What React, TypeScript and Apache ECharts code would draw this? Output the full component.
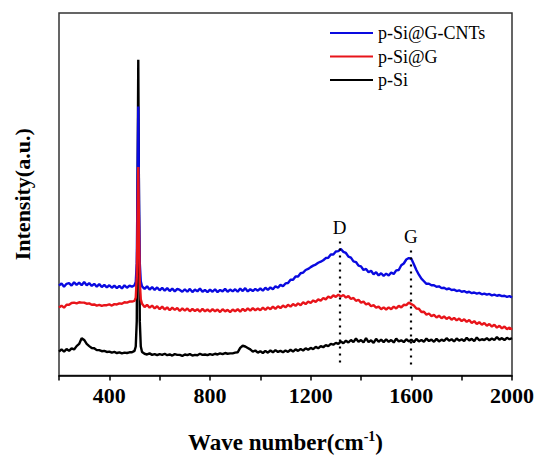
import React, { useEffect, useRef } from "react";
import * as echarts from "echarts";

const waveNumbers: number[] = [
  200, 210, 220, 230, 240, 250, 260, 270, 280, 290,
  300, 310, 320, 330, 340, 350, 360, 370, 380, 390,
  400, 410, 420, 430, 440, 450, 460, 470, 480, 490,
  500, 505, 509, 512, 515, 518, 521, 525, 530,
  540, 550, 560, 570, 580, 590,
  600, 610, 620, 630, 640, 650, 660, 670, 680, 690,
  700, 710, 720, 730, 740, 750, 760, 770, 780, 790,
  800, 810, 820, 830, 840, 850, 860, 870, 880, 890,
  900, 910, 920, 930, 940, 950, 960, 970, 980, 990,
  1000, 1010, 1020, 1030, 1040, 1050, 1060, 1070, 1080, 1090,
  1100, 1110, 1120, 1130, 1140, 1150, 1160, 1170, 1180, 1190,
  1200, 1210, 1220, 1230, 1240, 1250, 1260, 1270, 1280, 1290,
  1300, 1310, 1320, 1330, 1340, 1350, 1360, 1370, 1380, 1390,
  1400, 1410, 1420, 1430, 1440, 1450, 1460, 1470, 1480, 1490,
  1500, 1510, 1520, 1530, 1540, 1550, 1560, 1570, 1580, 1590,
  1600, 1610, 1620, 1630, 1640, 1650, 1660, 1670, 1680, 1690,
  1700, 1710, 1720, 1730, 1740, 1750, 1760, 1770, 1780, 1790,
  1800, 1810, 1820, 1830, 1840, 1850, 1860, 1870, 1880, 1890,
  1900, 1910, 1920, 1930, 1940, 1950, 1960, 1970, 1980, 1990,
  2000,
];

const blueValues: number[] = [
  24.8, 25.4, 24.5, 25.3, 25.5, 24.8, 25.7, 25.0, 25.6, 24.9,
  25.8, 24.9, 25.5, 24.7, 25.3, 24.5, 25.2, 24.4, 25.0, 24.3,
  24.9, 24.2, 24.8, 24.1, 24.7, 24.0, 24.9, 24.2, 24.8, 24.5,
  24.9, 25.8, 31, 52, 74.2, 48, 31, 26, 24.6,
  23.9, 24.6, 23.7, 24.4, 23.6, 24.3,
  23.5, 24.2, 23.4, 24.1, 23.3, 24.0, 23.2, 23.9, 23.6, 23.1,
  23.8, 23.1, 23.9, 23.0, 23.7, 23.2, 24.0, 23.1, 23.6, 23.0,
  23.7, 23.1, 23.8, 23.0, 23.6, 23.2, 23.9, 23.1, 23.7, 23.2,
  23.8, 23.1, 24.0, 23.3, 24.1, 23.2, 23.8, 23.3, 23.9, 23.4,
  24.0, 23.4, 24.2, 23.6, 24.3, 23.8, 24.6, 24.2, 25.0, 24.6,
  25.4, 25.5, 26.4, 26.4, 27.3, 27.3, 28.2, 28.4, 29.1, 29.4,
  29.9, 30.3, 30.6, 31.1, 31.4, 31.8, 32.4, 32.5, 33.4, 33.4,
  34.2, 34.3, 34.9, 34.1, 33.8, 32.8, 32.5, 31.5, 31.3, 30.3,
  30.1, 29.1, 29.4, 28.5, 28.9, 27.9, 28.5, 27.6, 28.2, 27.5,
  28.1, 27.6, 28.4, 28.0, 29.0, 29.1, 30.4, 30.9, 32.0, 32.4,
  32.2, 30.7, 29.1, 27.8, 26.7, 26.0, 25.3, 25.3, 24.9, 24.9,
  24.5, 24.6, 24.1, 24.2, 23.8, 24.0, 23.6, 23.7, 23.3, 23.5,
  23.1, 23.3, 22.9, 23.1, 22.7, 22.9, 22.6, 22.8, 22.4, 22.6,
  22.3, 22.5, 22.1, 22.3, 22.0, 22.2, 21.9, 22.0, 21.7, 21.9,
  21.5,
];

const redValues: number[] = [
  18.7, 19.3, 18.7, 19.5, 19.5, 20.0, 20.1, 19.9, 20.2, 20.1,
  20.1, 19.8, 19.9, 19.5, 19.6, 19.3, 19.5, 19.2, 19.4, 19.4,
  19.6, 19.3, 19.7, 19.6, 19.9, 19.8, 20.2, 20.1, 20.4, 20.4,
  20.6, 21.5, 27, 42, 57.5, 40, 26, 21, 19.8,
  18.9, 19.5, 18.7, 19.3, 18.5, 19.1,
  18.3, 19.0, 18.2, 18.8, 18.0, 18.7, 18.1, 18.6, 17.8, 18.5,
  17.9, 18.5, 17.7, 18.4, 17.8, 18.3, 17.6, 18.4, 17.7, 18.2,
  17.6, 18.3, 17.7, 18.2, 17.5, 18.3, 17.7, 18.1, 17.5, 18.2,
  17.7, 18.3, 17.6, 18.4, 17.8, 18.5, 17.9, 18.6, 18.0, 18.5,
  18.0, 18.7, 18.1, 18.8, 18.3, 19.0, 18.4, 19.1, 18.6, 19.3,
  18.8, 19.5, 19.0, 19.7, 19.2, 19.9, 19.4, 20.2, 19.7, 20.4,
  20.0, 20.7, 20.3, 21.0, 20.6, 21.4, 21.0, 21.8, 21.4, 22.1,
  21.7, 22.3, 21.8, 22.2, 21.5, 21.9, 21.1, 21.4, 20.6, 20.9,
  20.1, 20.4, 19.6, 19.9, 19.1, 19.4, 18.7, 19.0, 18.3, 18.8,
  18.2, 18.8, 18.3, 19.0, 18.5, 19.2, 18.8, 19.5, 19.4, 20.1,
  19.7, 19.3, 18.5, 18.4, 17.5, 17.6, 16.8, 17.1, 16.4, 16.7,
  16.0, 16.5, 15.8, 16.3, 15.6, 16.1, 15.4, 15.9, 15.2, 15.7,
  15.0, 15.5, 14.8, 15.3, 14.5, 15.0, 14.2, 14.7, 14.0, 14.5,
  13.7, 14.2, 13.5, 14.0, 13.2, 13.7, 13.0, 13.5, 12.8, 13.2,
  12.7,
];

const blackValues: number[] = [
  6.6, 7.2, 6.6, 7.3, 6.8, 7.5, 7.2, 8.1, 8.7, 10.3,
  9.8, 8.7, 8.1, 7.6, 7.5, 7.0, 7.0, 6.7, 6.8, 6.5,
  6.6, 6.3, 6.5, 6.2, 6.4, 6.1, 6.3, 6.2, 6.4, 6.4,
  6.8, 8, 15, 50, 87.1, 45, 15, 8, 6.5,
  6.0, 5.8, 6.1, 5.7, 5.9, 5.6,
  5.9, 5.7, 6.0, 5.6, 5.8, 5.5, 5.9, 5.7, 5.7, 5.4,
  5.8, 5.6, 5.9, 5.5, 5.7, 5.6, 6.0, 5.7, 5.8, 5.6,
  5.9, 5.7, 6.0, 5.8, 6.1, 5.9, 6.2, 6.0, 6.1, 6.1,
  6.3, 6.4, 7.6, 8.2, 8.0, 7.6, 7.2, 6.6, 6.9, 6.3,
  6.7, 6.2, 6.8, 6.3, 6.9, 6.4, 7.0, 6.5, 6.8, 6.4,
  6.9, 6.5, 7.1, 6.6, 7.2, 6.8, 7.3, 6.9, 7.5, 7.1,
  7.6, 7.3, 7.9, 7.5, 8.1, 7.8, 8.4, 8.1, 8.7, 8.5,
  9.0, 8.7, 9.4, 8.9, 9.6, 9.1, 9.8, 9.2, 10.2, 9.3,
  9.8, 9.1, 10.3, 9.2, 9.7, 9.0, 10.1, 9.3, 9.9, 9.2,
  10.0, 9.3, 9.8, 9.1, 10.2, 9.4, 9.7, 9.2, 10.0, 9.4,
  9.9, 9.2, 10.1, 9.4, 9.8, 9.3, 10.2, 9.5, 9.9, 9.3,
  10.1, 9.4, 9.9, 9.5, 10.3, 9.6, 10.0, 9.4, 10.2, 9.6,
  10.0, 9.5, 10.4, 9.7, 10.1, 9.5, 10.5, 9.7, 10.0, 9.8,
  10.3, 9.7, 10.2, 9.8, 10.6, 9.9, 10.3, 9.8, 10.4, 10.0,
  10.3,
];

const seriesNames = ["p-Si@G-CNTs", "p-Si@G", "p-Si"];
const xTickLabels = [400, 800, 1200, 1600, 2000];
const bandPositions = [1315, 1598];
const bandLabels = ["D", "G"];
const bandTops = [37.0, 34.5];
const bandBottom = 2.2;

const SERIF = "Liberation Serif";

const pair = (vals: number[]) => waveNumbers.map((w, i) => [w, vals[i]]);

export default function App() {
  const ref = useRef<HTMLDivElement>(null);
  useEffect(() => {
    if (!ref.current) return;
    const chart = echarts.init(ref.current, undefined, { renderer: "svg" });
    const lineCommon = {
      type: "line" as const,
      symbol: "none",
      showSymbol: false,
      smooth: false,
      silent: true,
    };
    chart.setOption({
      animation: false,
      backgroundColor: "#ffffff",
      textStyle: { fontFamily: SERIF },
      grid: {
        left: 59,
        right: 27,
        top: 13,
        bottom: 81,
        show: true,
        borderColor: "#333",
        borderWidth: 1.5,
      },
      legend: {
        data: seriesNames.map((n) => ({ name: n, icon: "rect" })),
        orient: "vertical",
        left: 330,
        top: 24,
        padding: 0,
        itemWidth: 43,
        itemHeight: 2,
        itemGap: 5.5,
        textStyle: {
          fontFamily: SERIF,
          fontSize: 18,
          color: "#000",
          lineHeight: 18,
        },
      },
      xAxis: {
        type: "value",
        min: 200,
        max: 2000,
        interval: 200,
        name: "Wave number(cm{sup|-1})",
        nameLocation: "middle",
        nameGap: 54,
        nameTextStyle: {
          fontFamily: SERIF,
          fontWeight: "bold",
          fontSize: 23,
          color: "#000",
          rich: {
            sup: {
              fontFamily: SERIF,
              fontWeight: "bold",
              fontSize: 14,
              color: "#000",
              verticalAlign: "top",
              padding: [0, 0, 12, 0],
            },
          },
        },
        axisLine: { show: true, lineStyle: { color: "#000", width: 1.5 } },
        axisTick: { show: true, inside: false, length: 5, lineStyle: { color: "#000", width: 1.5 } },
        axisLabel: {
          fontFamily: SERIF,
          fontWeight: "bold",
          fontSize: 22,
          color: "#000",
          margin: 9,
          formatter: (v: number) => (xTickLabels.includes(v) ? String(v) : ""),
        },
        splitLine: { show: false },
      },
      yAxis: {
        type: "value",
        min: 0,
        max: 100,
        name: "Intensity(a.u.)",
        nameLocation: "middle",
        nameGap: 26,
        nameTextStyle: {
          fontFamily: SERIF,
          fontWeight: "bold",
          fontSize: 22,
          color: "#000",
        },
        axisLine: { show: false },
        axisTick: { show: false },
        axisLabel: { show: false },
        splitLine: { show: false },
      },
      series: [
        {
          ...lineCommon,
          name: "p-Si",
          data: pair(blackValues),
          lineStyle: { color: "#000000", width: 2.4 },
          itemStyle: { color: "#000000" },
          markLine: {
            silent: true,
            symbol: ["none", "none"],
            lineStyle: { color: "#000", type: [2, 5], width: 2.2 },
            label: {
              show: true,
              position: "start",
              distance: 4,
              fontFamily: SERIF,
              fontSize: 19,
              color: "#000",
              formatter: (p: any) => p.name,
            },
            data: bandPositions.map((x, i) => [
              { name: bandLabels[i], coord: [x, bandTops[i]] },
              { coord: [x, bandBottom] },
            ]),
          },
        },
        {
          ...lineCommon,
          name: "p-Si@G-CNTs",
          data: pair(blueValues),
          lineStyle: { color: "#0a0ae0", width: 2.4 },
          itemStyle: { color: "#0a0ae0" },
        },
        {
          ...lineCommon,
          name: "p-Si@G",
          data: pair(redValues),
          lineStyle: { color: "#e8141a", width: 2.4 },
          itemStyle: { color: "#e8141a" },
        },
      ],
    });
    return () => chart.dispose();
  }, []);
  return (
    <div
      ref={ref}
      style={{ position: "absolute", left: 0, top: 0, width: 539, height: 459, background: "#fff" }}
    />
  );
}
